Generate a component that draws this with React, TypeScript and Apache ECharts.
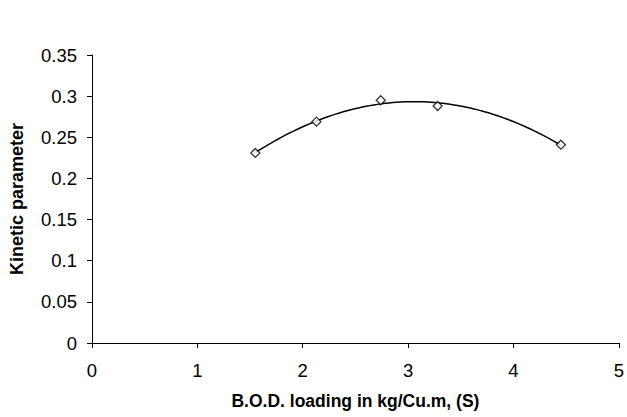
import React, { useEffect, useRef } from "react";
import * as echarts from "echarts";

// Measured BOD loading (kg/Cu.m) and the kinetic parameter at each loading
const bodLoading = [1.55, 2.13, 2.74, 3.28, 4.45];
const kineticParam = [0.231, 0.269, 0.295, 0.288, 0.241];

const xTicks = { min: 0, max: 5, interval: 1 };
const yTicks = { min: 0, max: 0.35, interval: 0.05 };

// Second-order polynomial trendline fitted by least squares to the measurements
function quadraticFit(xs: number[], ys: number[]): [number, number, number] {
  const n = xs.length;
  let sx = 0, sx2 = 0, sx3 = 0, sx4 = 0, sy = 0, sxy = 0, sx2y = 0;
  for (let i = 0; i < n; i++) {
    const x = xs[i], y = ys[i];
    sx += x; sx2 += x * x; sx3 += x * x * x; sx4 += x * x * x * x;
    sy += y; sxy += x * y; sx2y += x * x * y;
  }
  const m = [
    [n, sx, sx2, sy],
    [sx, sx2, sx3, sxy],
    [sx2, sx3, sx4, sx2y],
  ];
  for (let c = 0; c < 3; c++) {
    for (let r = c + 1; r < 3; r++) {
      const f = m[r][c] / m[c][c];
      for (let k = c; k < 4; k++) m[r][k] -= f * m[c][k];
    }
  }
  const a2 = m[2][3] / m[2][2];
  const a1 = (m[1][3] - m[1][2] * a2) / m[1][1];
  const a0 = (m[0][3] - m[0][1] * a1 - m[0][2] * a2) / m[0][0];
  return [a0, a1, a2];
}

export default function App() {
  const ref = useRef<HTMLDivElement>(null);

  useEffect(() => {
    if (!ref.current) return;
    const chart = echarts.init(ref.current, undefined, { renderer: "svg" });

    const [a0, a1, a2] = quadraticFit(bodLoading, kineticParam);
    const x0 = bodLoading[0];
    const x1 = bodLoading[bodLoading.length - 1];
    const steps = 80;
    const trend: number[][] = [];
    for (let i = 0; i <= steps; i++) {
      const x = x0 + ((x1 - x0) * i) / steps;
      trend.push([x, a0 + a1 * x + a2 * x * x]);
    }

    const font = "'Liberation Sans', Arial, sans-serif";
    const axisLine = { show: true, lineStyle: { color: "#000", width: 1 } };

    chart.setOption({
      animation: false,
      backgroundColor: "#fff",
      textStyle: { fontFamily: font },
      grid: { left: 88, right: 6, top: 55, bottom: 74, containLabel: false },
      xAxis: {
        type: "value",
        ...xTicks,
        name: "B.O.D. loading in kg/Cu.m, (S)",
        nameLocation: "middle",
        nameGap: 49,
        nameTextStyle: { fontFamily: font, fontSize: 17.5, fontWeight: "bold", color: "#000" },
        axisLine,
        axisTick: { show: true, length: 5, lineStyle: { color: "#000" } },
        axisLabel: { fontFamily: font, fontSize: 18.5, color: "#000", margin: 18 },
        splitLine: { show: false },
      },
      yAxis: {
        type: "value",
        ...yTicks,
        name: "Kinetic parameter",
        nameLocation: "middle",
        nameGap: 66,
        nameTextStyle: { fontFamily: font, fontSize: 18, fontWeight: "bold", color: "#000" },
        axisLine,
        axisTick: { show: true, length: 5, lineStyle: { color: "#000" } },
        axisLabel: { fontFamily: font, fontSize: 18.5, color: "#000", margin: 15 },
        splitLine: { show: false },
      },
      series: [
        {
          type: "line",
          data: trend,
          showSymbol: false,
          symbol: "none",
          smooth: false,
          lineStyle: { color: "#000", width: 1.5 },
          z: 2,
        },
        {
          type: "scatter",
          data: bodLoading.map((x, i) => [x, kineticParam[i]]),
          symbol: "diamond",
          symbolSize: [9, 9],
          itemStyle: { color: "#fff", borderColor: "#000", borderWidth: 1.3 },
          z: 3,
        },
      ],
    });

    return () => chart.dispose();
  }, []);

  return <div ref={ref} style={{ width: 627, height: 417, position: "absolute", left: 0, top: 0 }} />;
}
